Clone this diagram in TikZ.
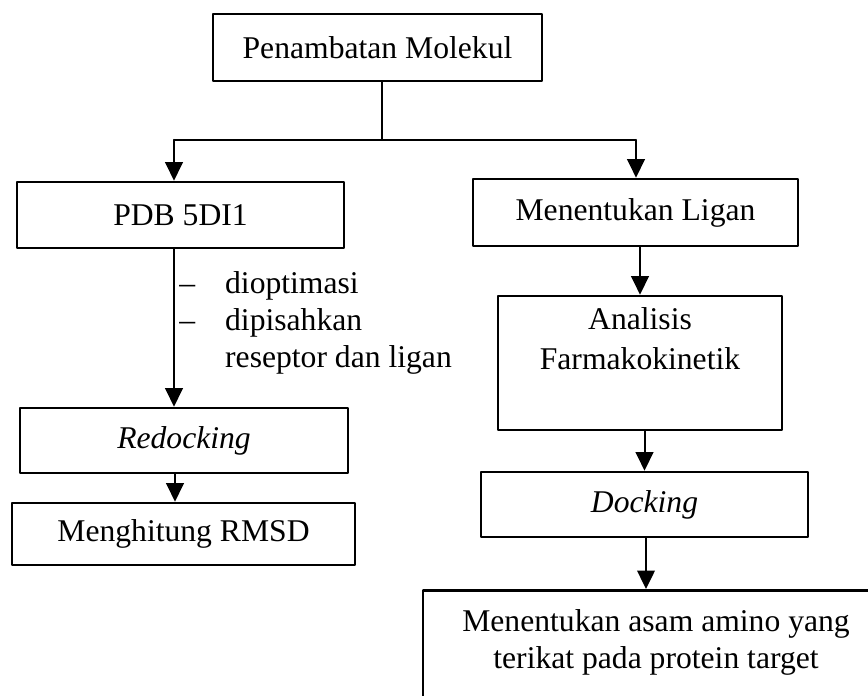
\documentclass[tikz,border=0pt]{standalone}
\usepackage{fontspec}
\setmainfont{Liberation Serif}
\usetikzlibrary{arrows.meta}

\begin{document}
\begin{tikzpicture}[line cap=round,line join=round,>={Triangle[width=10pt,length=10.5pt]},
  every node/.style={inner sep=1pt,font=\fontsize{18}{21}\selectfont},
  box/.style={draw,line width=1.5pt,line cap=butt,minimum height=1.3cm,align=center},
  flow/.style={->,line width=1.15pt}]
  \useasboundingbox (0,0) rectangle (17.36,13.9);
  \node[box,minimum width=6.58cm,minimum height=1.34cm] (top) at (7.55,12.95) {Penambatan Molekul};
  \node[box,minimum width=6.54cm,minimum height=1.32cm] (pdb) at (3.61,9.6) {PDB 5DI1};
  \node[box,minimum width=6.5cm,minimum height=1.34cm] (ligan) at (12.71,9.65) {Menentukan Ligan};
  \node[box,minimum width=5.68cm,minimum height=2.68cm] (farmako) at (12.8,6.64)
    {Analisis\\[2pt]Farmakokinetik\rule[-0.97cm]{0pt}{0pt}};
  \node[box,minimum width=6.56cm] (redock) at (3.68,5.09) {\textit{Redocking}};
  \node[box,minimum width=6.86cm,minimum height=1.24cm] (rmsd) at (3.67,3.22) {Menghitung RMSD};
  \node[box,minimum width=6.54cm] (dock) at (12.89,3.81) {\textit{Docking}};
  \node[box,anchor=north,minimum width=9.32cm,minimum height=2.9cm] (asam) at (13.12,2.12)
    {Menentukan asam amino yang\\terikat pada protein target\rule[-0.97cm]{0pt}{0pt}};
  \node[anchor=west] (steps) at (3.545,7.44)
    {\begin{tabular}{@{}l@{\hspace{0.6cm}}l@{}}–&dioptimasi\\–&dipisahkan\\&reseptor dan ligan\end{tabular}};
  \coordinate (split) at (7.64,11.1);
  \coordinate (lsplit) at (3.48,11.1);
  \coordinate (rsplit) at (12.72,11.1);
  \draw[line width=0.6pt] (split |- top.south) -- (split);
  \draw[line width=1pt] (lsplit) -- (rsplit);
  \draw[flow] (lsplit) -- (lsplit |- pdb.north);
  \draw[flow] (rsplit) -- (rsplit |- ligan.north);
  \draw[flow] (pdb.south -| lsplit) -- (redock.north -| lsplit);
  \draw[flow] ([xshift=0.02cm]redock.south -| lsplit) -- ([xshift=0.02cm]rmsd.north -| lsplit);
  \draw[flow] (ligan.south -| farmako.north) -- (farmako.north);
  \draw[flow] (dock.north |- farmako.south) -- (dock.north);
  \draw[flow] ([xshift=0.03cm]dock.south) -- ([xshift=0.03cm]dock.south |- asam.north);
\end{tikzpicture}
\end{document}
